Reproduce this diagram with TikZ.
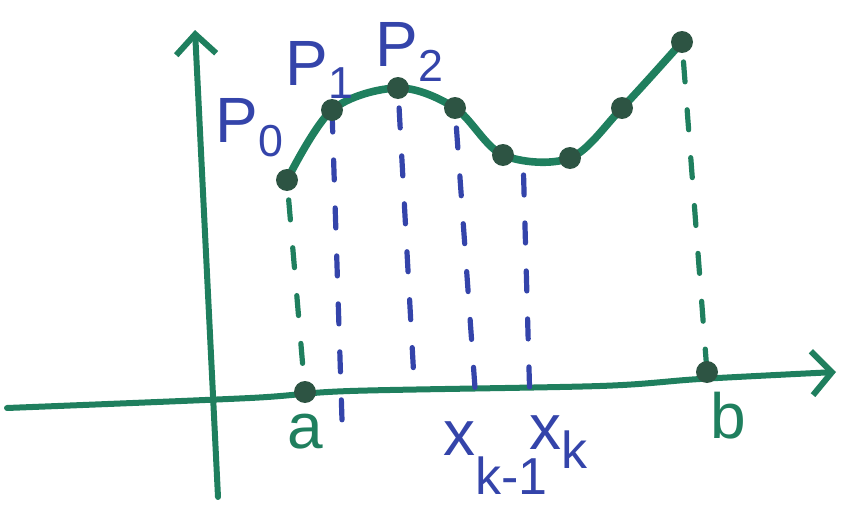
\documentclass[tikz,border=0pt]{standalone}
\usepackage{fontspec}
\setmainfont{Liberation Sans}
\usetikzlibrary{arrows.meta, positioning}
\definecolor{InkGreen}{HTML}{1F7F5E}
\definecolor{InkDark}{HTML}{2D5443}
\definecolor{InkBlue}{HTML}{3444AA}

\begin{document}
\begin{tikzpicture}[x=0.5pt, y=-0.5pt,
    axis/.style={InkGreen, line width=3pt, line cap=round},
    curve/.style={InkGreen, line width=3.8pt, line cap=round},
    gdash/.style={InkGreen, line width=2.6pt, line cap=round, dash pattern=on 10pt off 14pt, dash phase=14pt},
    bdash/.style={InkBlue, line width=2.6pt, line cap=round, dash pattern=on 10pt off 14pt, dash phase=14pt},
    lbl/.style={InkBlue, font=\fontsize{32}{32}\selectfont},
    glbl/.style={InkGreen, font=\fontsize{32}{32}\selectfont}]
  \useasboundingbox (0,0) rectangle (843,514);
  % axes
  \draw[axis, -{Straight Barb[length=10pt, width=22pt]}] plot[smooth] coordinates {(7,408) (250,398) (350,391) (600,386) (700,379) (836,372)};
  \draw[axis, -{Straight Barb[length=10pt, width=20pt]}] (218,497) -- (195,30);
  % points on the curve
  \coordinate (p0) at (287,180);
  \coordinate (p1) at (332,110);
  \coordinate (p2) at (398,88);
  \coordinate (p3) at (455,108);
  \coordinate (p4) at (503,155);
  \coordinate (p5) at (570,158);
  \coordinate (p6) at (622,108);
  \coordinate (pn) at (682,42);
  % feet on the x axis
  \coordinate (a) at (305,392);
  \coordinate (f1) at (342,420);
  \coordinate (f2) at (414,380);
  \coordinate (f3) at (475,388);
  \coordinate (f4) at (530,404);
  \coordinate (b) at (707,372);
  % dashed verticals
  \draw[gdash] (p0) -- (a);
  \draw[bdash, dash phase=23pt] (p1) -- (f1);
  \draw[bdash] (p2) -- (f2);
  \draw[bdash] (p3) -- (f3);
  \draw[bdash] (p4) ++(20,0) -- (f4);
  \draw[gdash] (pn) -- (b);
  % curve
  \draw[curve] plot[smooth, tension=0.55] coordinates {(p0) (p1) (p2) (p3) (p4) (p5) (p6) (pn)};
  \foreach \p in {p0,p1,p2,p3,p4,p5,p6,pn,a,b}
    \fill[InkDark] (\p) circle (5.5pt);
  % labels
  \node[lbl] (lp0) at (250,128) {P\textsubscript{0}};
  \node[lbl] (lp1) at (320,70) {P\textsubscript{1}};
  \node[lbl] (lp2) at (410,52) {P\textsubscript{2}};
  \node[glbl] (la) at (305,432) {a};
  \node[glbl] (lb) at (728,416) {b};
  \node[lbl, anchor=west] (lxk1) at (436,458) {x\raisebox{-0.6em}{\fontsize{26}{26}\selectfont k-1}};
  \node[lbl, anchor=west] (lxk) at (522,442) {x\raisebox{-0.3em}{\fontsize{26}{26}\selectfont k}};
\end{tikzpicture}
\end{document}
